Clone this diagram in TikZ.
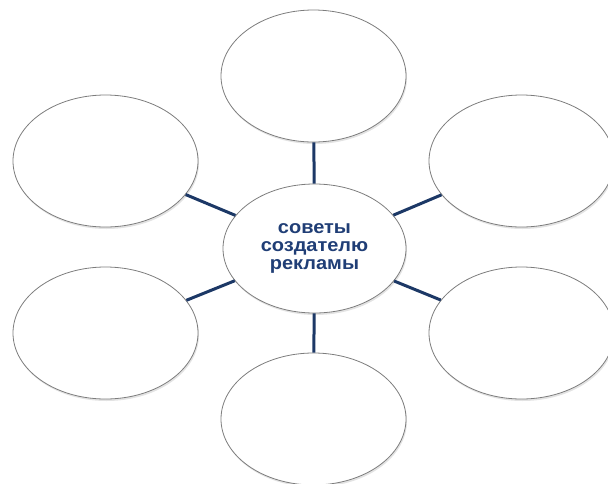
\documentclass[tikz,border=0pt]{standalone}
\usepackage{fontspec}
\newfontfamily\tipfont[FakeStretch=1.08]{Liberation Sans}
\usetikzlibrary{shapes.geometric,shadows}
\definecolor{spokeblue}{RGB}{28,56,102}
\definecolor{textblue}{RGB}{32,62,118}
\definecolor{rimgray}{RGB}{125,125,125}
\def\ovalw{185pt}
\def\ovalh{132pt}

\begin{document}
\begin{tikzpicture}[x=1pt,y=-1pt]
    \tikzset{%
      oval/.style={%
        ellipse, draw=rimgray, line width=0.8pt, fill=white, inner sep=0pt,
        minimum width=\ovalw, minimum height=\ovalh,
        drop shadow={shadow xshift=1pt, shadow yshift=-2pt, opacity=0.22}},
      spoke/.style={draw=spokeblue, line width=3pt}}

    \useasboundingbox (0,0) rectangle (608,483);

    \node[oval, minimum width=183pt, minimum height=129pt, align=center,
          text=textblue, font=\tipfont\bfseries\fontsize{18.5}{18}\selectfont]
      (hub) at (314.5,248.5) {советы\\создателю\\рекламы};

    % empty ovals round the hub
    \foreach \name/\x/\y in {top/313.5/76, ul/105.5/161, ur/521.5/161,
                             ll/105.5/333, lr/521.5/333, bot/313.5/419}{
      \node[oval] (\name) at (\x,\y) {};
      \draw[spoke] (hub) -- (\name);
    }
  \end{tikzpicture}
\end{document}
